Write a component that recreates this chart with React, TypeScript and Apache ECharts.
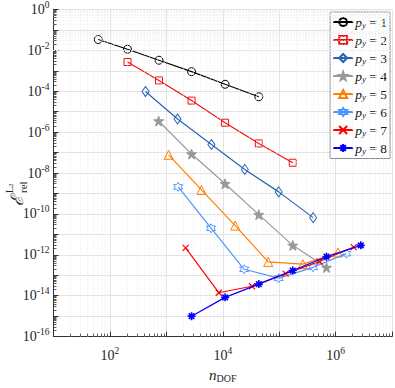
import React, { useEffect, useRef } from "react";
import * as echarts from "echarts";

// n_DOF values and relative L2 errors per p_y
const X1 = [62, 205, 740, 2800, 11000, 43600];
const Y1 = [3.4e-2, 1.14e-2, 3.3e-3, 9.1e-4, 2.2e-4, 5.4e-5];
const X2 = [205, 740, 2800, 11000, 43600, 174000];
const Y2 = [2.7e-3, 3.4e-4, 3.5e-5, 2.9e-6, 2.8e-7, 3.2e-8];
const X3 = [427, 1580, 6300, 24600, 98000, 400000];
const Y3 = [9.7e-5, 4.4e-6, 2.5e-7, 1.5e-8, 1.2e-9, 6.6e-11];
const X4 = [730, 2800, 11000, 43600, 174000, 690000];
const Y4 = [3.5e-6, 8.5e-8, 3.0e-9, 9.2e-11, 2.9e-12, 2.4e-13];
const X5 = [1100, 4200, 16600, 64000, 263000, 1.1e6];
const Y5 = [7.8e-8, 1.5e-9, 2.7e-11, 4.5e-13, 3.5e-13, 1.3e-12];
const X6 = [1620, 6200, 24000, 98000, 400000, 1.55e6];
const Y6 = [2.1e-9, 2.0e-11, 1.96e-13, 7.2e-14, 2.45e-13, 1.15e-12];
const X7 = [2200, 8500, 33000, 130000, 520000, 2.1e6];
const Y7 = [2.2e-12, 1.4e-14, 2.9e-14, 1.2e-13, 4.7e-13, 2.4e-12];
const X8 = [2800, 11000, 43600, 174000, 690000, 2.8e6];
const Y8 = [1.0e-15, 8.3e-15, 3.7e-14, 1.7e-13, 8.1e-13, 2.9e-12];

const SERIES_NAMES = ["1", "2", "3", "4", "5", "6", "7", "8"];
const X_MIN = 10;
const X_MAX = 1e7;
const Y_MIN = 1e-16;
const Y_MAX = 1;

const STAR5 =
  "path://M0,-10 L2.35,-3.24 9.51,-3.09 3.8,1.24 5.88,8.09 0,4 -5.88,8.09 -3.8,1.24 -9.51,-3.09 -2.35,-3.24Z";
const STAR6 =
  "path://M0,-10 L2.89,-5 8.66,-5 5.77,0 8.66,5 2.89,5 0,10 -2.89,5 -8.66,5 -5.77,0 -8.66,-5 -2.89,-5Z";
const XMARK = "path://M-5,-5 L5,5 M-5,5 L5,-5";
const ASTER = "path://M0,-5 L0,5 M-5,0 L5,0 M-3.5,-3.5 L3.5,3.5 M-3.5,3.5 L3.5,-3.5";

const SERIF = "'Liberation Serif', 'DejaVu Serif', serif";

export default function App() {
  const ref = useRef<HTMLDivElement>(null);
  useEffect(() => {
    if (!ref.current) return;
    const chart = echarts.init(ref.current, null, { renderer: "svg" });

    const xs = [X1, X2, X3, X4, X5, X6, X7, X8];
    const ys = [Y1, Y2, Y3, Y4, Y5, Y6, Y7, Y8];
    const styles = [
      { c: "#000000", sym: "circle", size: 8, fill: false, bw: 1 },
      { c: "#EE1111", sym: "rect", size: 7, fill: false, bw: 1 },
      { c: "#2864B4", sym: "diamond", size: [7, 10], fill: false, bw: 1 },
      { c: "#999999", sym: STAR5, size: 10, fill: true, bw: 1 },
      { c: "#FF7F00", sym: "triangle", size: 9, fill: false, bw: 1 },
      { c: "#4D96FF", sym: STAR6, size: 9, fill: false, bw: 1 },
      { c: "#FF0000", sym: XMARK, size: 6, fill: false, bw: 1.2 },
      { c: "#0000FF", sym: ASTER, size: 8, fill: false, bw: 1.6 },
    ];

    const dataSeries = SERIES_NAMES.map((n, i) => {
      const s = styles[i];
      return {
        name: n,
        type: "line",
        data: xs[i].map((x, j) => [x, ys[i][j]]),
        symbol: s.sym,
        symbolSize: s.size,
        showSymbol: true,
        lineStyle: { color: s.c, width: 1.2 },
        itemStyle: {
          color: s.fill ? s.c : "rgba(255,255,255,0)",
          borderColor: s.c,
          borderWidth: s.bw,
        },
        emphasis: { disabled: true },
        z: 3 + i,
      };
    });

    // minor grid values (2..9 in each decade)
    const xMinor: number[] = [];
    for (let d = 1; d < 7; d++) for (let k = 2; k <= 9; k++) xMinor.push(k * Math.pow(10, d));
    const yMinor: number[] = [];
    for (let d = -16; d < 0; d++) for (let k = 2; k <= 9; k++) yMinor.push(k * Math.pow(10, d));

    const gridLineStyle = { color: "#ebebeb", type: [1, 2] as any, width: 1 };
    const tickStyle = { color: "#333", type: "solid", width: 0.8 };

    const markData: any[] = [];
    xMinor.forEach((v) => markData.push({ xAxis: v, lineStyle: gridLineStyle }));
    yMinor.forEach((v) => markData.push({ yAxis: v, lineStyle: gridLineStyle }));
    xMinor.forEach((v) =>
      markData.push([
        { coord: [v, Y_MIN], lineStyle: tickStyle },
        { coord: [v, Y_MIN * 1.4] },
      ])
    );
    yMinor.forEach((v) =>
      markData.push([
        { coord: [X_MIN, v], lineStyle: tickStyle },
        { coord: [X_MIN * 1.13, v] },
      ])
    );

    const gridSeries = {
      name: "__grid",
      type: "line",
      data: [],
      silent: true,
      z: 1,
      markLine: {
        silent: true,
        symbol: ["none", "none"],
        label: { show: false },
        animation: false,
        data: markData,
      },
    };

    const expFmt = (v: number) => {
      const e = Math.round(Math.log10(v));
      if (Math.abs(e) % 2 === 1) return "";
      return "{b|10}{sup|" + (e < 0 ? "-" + -e : String(e)) + "}";
    };
    const labelRich = {
      b: { fontFamily: SERIF, fontSize: 14, color: "#262626" },
      sup: { fontFamily: SERIF, fontSize: 9.5, color: "#262626", padding: [0, 0, 9, 0] },
    };

    const option: any = {
      animation: false,
      backgroundColor: "#ffffff",
      grid: { left: 53.5, right: 3, top: 8, bottom: 40 },
      xAxis: {
        type: "log",
        logBase: 10,
        min: X_MIN,
        max: X_MAX,
        interval: 1,
        axisLine: { show: true, lineStyle: { color: "#333", width: 1 } },
        axisTick: { show: true, inside: true, length: 5, lineStyle: { color: "#333" } },
        axisLabel: { formatter: expFmt, rich: labelRich, margin: 9, showMinLabel: true, showMaxLabel: true },
        splitLine: { show: true, lineStyle: { color: "#e3e3e3", width: 1 } },
        name: "{i|n}{s|DOF}",
        nameLocation: "middle",
        nameGap: 28,
        nameTextStyle: {
          rich: {
            i: { fontFamily: SERIF, fontStyle: "italic", fontSize: 15, color: "#262626" },
            s: { fontFamily: SERIF, fontSize: 10, color: "#262626", padding: [7, 0, 0, 0] },
          },
        },
      },
      yAxis: {
        type: "log",
        logBase: 10,
        min: Y_MIN,
        max: Y_MAX,
        interval: 1,
        axisLine: { show: true, lineStyle: { color: "#333", width: 1 } },
        axisTick: { show: true, inside: true, length: 5, lineStyle: { color: "#333" } },
        axisLabel: { formatter: expFmt, rich: labelRich, margin: 4 },
        splitLine: { show: true, lineStyle: { color: "#e3e3e3", width: 1 } },
      },
      legend: {
        data: SERIES_NAMES,
        orient: "vertical",
        right: 5,
        top: 12,
        padding: [3, 3, 3, 2],
        itemGap: 3.5,
        itemWidth: 20,
        itemHeight: 10,
        borderColor: "#888",
        borderWidth: 1,
        borderRadius: 0,
        backgroundColor: "#ffffff",
        formatter: (n: string) => "{i|p}{s|y}{n| = " + n + "}",
        textStyle: {
          padding: [0, 0, 0, -3],
          rich: {
            i: { fontFamily: SERIF, fontStyle: "italic", fontSize: 13.5, color: "#111" },
            s: { fontFamily: SERIF, fontStyle: "italic", fontSize: 9, color: "#111", padding: [6, 0, 0, 0] },
            n: { fontFamily: SERIF, fontSize: 13.5, color: "#111" },
          },
        },
      },
      graphic: [
        {
          type: "group",
          x: 17,
          y: 192,
          rotation: Math.PI / 2,
          children: [
            {
              type: "text",
              x: -14,
              y: 0,
              style: {
                text: "ℰ",
                font: "italic 17px 'DejaVu Serif', serif",
                fill: "#262626",
                textAlign: "left",
                textVerticalAlign: "middle",
              },
            },
            {
              type: "text",
              x: -1,
              y: 6,
              style: {
                text: "rel",
                font: "11px " + SERIF,
                fill: "#262626",
                textAlign: "left",
                textVerticalAlign: "middle",
              },
            },
            {
              type: "text",
              x: -1,
              y: -8,
              style: {
                text: "L",
                font: "10px " + SERIF,
                fill: "#262626",
                textAlign: "left",
                textVerticalAlign: "middle",
              },
            },
            {
              type: "text",
              x: 5,
              y: -6,
              style: {
                text: "2",
                font: "7px " + SERIF,
                fill: "#262626",
                textAlign: "left",
                textVerticalAlign: "middle",
              },
            },
          ],
        },
      ],
      series: [gridSeries, ...dataSeries],
    };

    chart.setOption(option);
    return () => chart.dispose();
  }, []);

  return <div ref={ref} style={{ width: 395, height: 388, position: "absolute", left: 0, top: 0 }} />;
}
